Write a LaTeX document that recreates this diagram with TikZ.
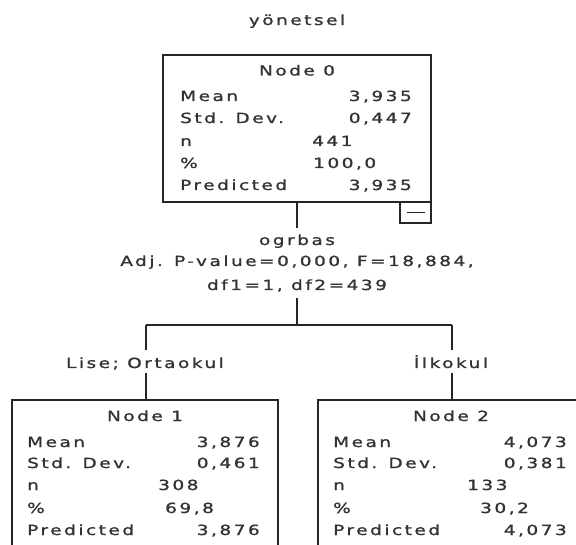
\documentclass[tikz,border=0pt]{standalone}
\usepackage{fontspec}
\newfontfamily\spss[LetterSpace=18,FakeStretch=1.32,FakeBold=1.2]{DejaVu Sans}
\begin{document}
\begin{tikzpicture}[x=1pt,y=-1pt,
  ln/.style={draw=black!85, line width=1.5pt},
  txt/.style={font=\spss\fontsize{14}{16}\selectfont, text=black!80, inner sep=0pt},
  lab/.style={txt, anchor=base west},
  val/.style={txt, anchor=base east},
  mid/.style={txt, anchor=base}]
\useasboundingbox (0,0) rectangle (576,545);
\fill[white] (0,0) rectangle (576,545);

\node[mid] (title) at (297,25) {yönetsel};

% Node 0
\node[ln, minimum width=268pt, minimum height=147pt, inner sep=0pt] (n0) at (297,128.5) {};
\node[mid] (n0t) at (297,75.5) {Node 0};
\node[lab] (n0a) at (180,101) {Mean};
\node[lab] (n0b) at (180,123) {Std. Dev.};
\node[lab] (n0c) at (180,146) {n};
\node[lab] (n0d) at (180,168) {\%};
\node[lab] (n0e) at (180,190) {Predicted};
\node[val] (n0av) at (412,101) {3,935};
\node[val] (n0bv) at (412,123) {0,447};
\node[lab] (n0cv) at (312,146) {441};
\node[lab] (n0dv) at (313,168) {100,0};
\node[val] (n0ev) at (412,190) {3,935};
\node[ln, minimum width=31pt, minimum height=21pt, inner sep=0pt] (tog) at (415.5,212.5) {};
\draw[ln] ([xshift=-9pt]tog.center) -- ([xshift=9pt]tog.center);

% split
\coordinate (c0) at (297,228);
\draw[ln] (n0.south) -- (c0);
\node[mid] (var) at (297,245) {ogrbas};
\node[mid] (stat) at (297,266) {Adj. P-value=0,000, F=18,884,};
\node[mid] (df) at (297,290) {df1=1, df2=439};
\coordinate (c1) at (297,298);
\coordinate (sp) at (297,325);
\draw[ln] (c1) -- (sp);
\coordinate (spL) at (146,325);
\coordinate (spR) at (452,325);
\draw[ln] (spL) -- (spR);

% left branch
\coordinate (aL) at (146,350);
\coordinate (bL) at (146,373);
\coordinate (tL) at (146,400);
\draw[ln] (spL) -- (aL);
\node[mid] (labL) at (145,368) {Lise; Ortaokul};
\draw[ln] (bL) -- (tL);

% right branch
\coordinate (aR) at (452,350);
\coordinate (bR) at (452,373);
\coordinate (tR) at (452,400);
\draw[ln] (spR) -- (aR);
\node[mid] (labR) at (451,368) {İlkokul};
\draw[ln] (bR) -- (tR);

% Node 1
\draw[ln] (12,546) -- (12,400) -- (278,400) -- (278,546);
\node[mid] (n1t) at (145,421) {Node 1};
\node[lab] (n1a) at (27,447) {Mean};
\node[lab] (n1b) at (27,468) {Std. Dev.};
\node[lab] (n1c) at (27,490) {n};
\node[lab] (n1d) at (27,513) {\%};
\node[lab] (n1e) at (27,535) {Predicted};
\node[val] (n1av) at (260,447) {3,876};
\node[val] (n1bv) at (260,468) {0,461};
\node[lab] (n1cv) at (158,490) {308};
\node[lab] (n1dv) at (165,513) {69,8};
\node[val] (n1ev) at (260,535) {3,876};

% Node 2
\draw[ln] (318,546) -- (318,400) -- (577,400);
\node[mid] (n2t) at (451,421) {Node 2};
\node[lab] (n2a) at (333,447) {Mean};
\node[lab] (n2b) at (333,468) {Std. Dev.};
\node[lab] (n2c) at (333,490) {n};
\node[lab] (n2d) at (333,513) {\%};
\node[lab] (n2e) at (333,535) {Predicted};
\node[val] (n2av) at (567,447) {4,073};
\node[val] (n2bv) at (567,468) {0,381};
\node[lab] (n2cv) at (467,490) {133};
\node[lab] (n2dv) at (480,513) {30,2};
\node[val] (n2ev) at (567,535) {4,073};
\end{tikzpicture}
\end{document}
